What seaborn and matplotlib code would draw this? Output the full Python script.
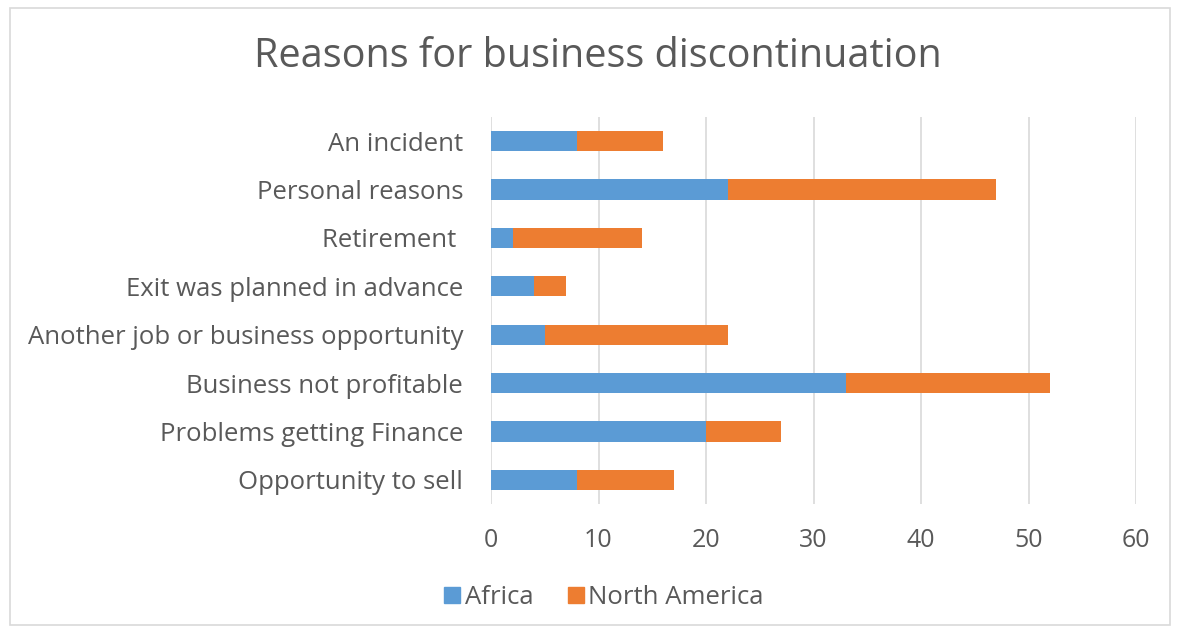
import matplotlib
matplotlib.use("Agg")
import matplotlib.pyplot as plt
import seaborn as sns
import pandas as pd
from matplotlib.patches import Rectangle
from matplotlib.lines import Line2D

categories = [
    "An incident",
    "Personal reasons",
    "Retirement ",
    "Exit was planned in advance",
    "Another job or business opportunity",
    "Business not profitable",
    "Problems getting Finance",
    "Opportunity to sell",
]
africa = [8, 22, 2, 4, 5, 33, 20, 8]
north_america = [8, 25, 12, 3, 17, 19, 7, 9]
x_ticks = [0, 10, 20, 30, 40, 50, 60]
series_names = ["Africa", "North America"]

title = "Reasons for business discontinuation"
c_africa = "#5B9BD5"
c_na = "#ED7D31"
text_color = "#595959"

sns.set_theme(style="white")
plt.rcParams["font.family"] = ["Open Sans", "DejaVu Sans"]

df = pd.DataFrame({
    "category": categories,
    "Africa": africa,
    "North America": north_america,
})
df["total"] = df["Africa"] + df["North America"]

fig = plt.figure(figsize=(11.79, 6.33), dpi=100)
ax = fig.add_axes([491 / 1179, 1 - 504 / 633, (1136 - 491) / 1179, (504 - 117) / 633])

sns.barplot(data=df, y="category", x="total", color=c_na, orient="h",
            width=0.42, ax=ax, saturation=1, zorder=3, linewidth=0)
sns.barplot(data=df, y="category", x="Africa", color=c_africa, orient="h",
            width=0.42, ax=ax, saturation=1, zorder=4, linewidth=0)

ax.set_xlim(0, 60)
ax.set_xticks(x_ticks)
ax.set_xticklabels([str(t) for t in x_ticks])
ax.set_xlabel("")
ax.set_ylabel("")
ax.grid(axis="x", color="#d9d9d9", linewidth=1.2, zorder=0)
ax.grid(axis="y", visible=False)
for s in ax.spines.values():
    s.set_visible(False)
ax.tick_params(axis="x", length=0, pad=17, labelsize=18, labelcolor=text_color)
ax.tick_params(axis="y", length=0, pad=20, labelsize=18.5, labelcolor=text_color)

fig.text(598 / 1179, 1 - 57 / 633, title, ha="center", va="center",
         fontsize=28.5, color=text_color)

handles = [Line2D([0], [0], marker="s", linestyle="none", markersize=11,
                  markerfacecolor=c, markeredgecolor=c) for c in (c_africa, c_na)]
fig.legend(handles, series_names, loc="center", bbox_to_anchor=(602 / 1179, 1 - 597 / 633),
           ncol=2, frameon=False, fontsize=18.5, labelcolor=text_color,
           handletextpad=0.05, columnspacing=1.2, handlelength=0.9)

fig.patches.append(Rectangle((10 / 1179, 8 / 633), 1160 / 1179, 617 / 633,
                             transform=fig.transFigure, fill=False,
                             edgecolor="#d9d9d9", linewidth=1.2))

fig.savefig("out.png", dpi=100)
